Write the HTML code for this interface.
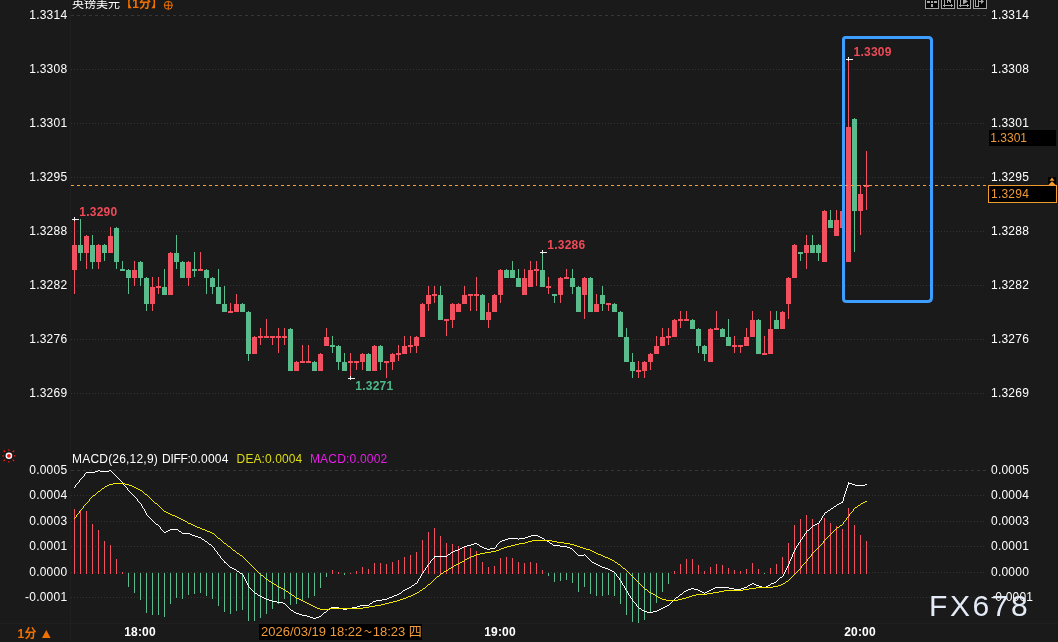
<!DOCTYPE html><html><head><meta charset="utf-8"><title>英镑美元 1分</title><style>
html,body{margin:0;padding:0;background:#1a1a1a;}
body{width:1058px;height:642px;overflow:hidden;position:relative;font-family:"Liberation Sans","Noto Sans CJK SC",sans-serif;font-size:12px;color:#e6e6e6;}
svg{position:absolute;left:0;top:0;}
.t{position:absolute;white-space:nowrap;line-height:14px;height:14px;letter-spacing:0.22px;color:#fff;}
.yl{left:0;width:67.3px;text-align:right;}
.yr{left:991px;}
.b{font-weight:bold;}

</style></head><body>
<svg width="1058" height="642" viewBox="0 0 1058 642">
<g shape-rendering="crispEdges">
<line x1="71" y1="15.5" x2="986" y2="15.5" stroke="#363636" stroke-width="1" stroke-dasharray="3 3"/>
<line x1="71" y1="69.5" x2="986" y2="69.5" stroke="#333333" stroke-width="1" stroke-dasharray="1 2"/>
<line x1="71" y1="123.5" x2="986" y2="123.5" stroke="#333333" stroke-width="1" stroke-dasharray="1 2"/>
<line x1="71" y1="177.5" x2="986" y2="177.5" stroke="#333333" stroke-width="1" stroke-dasharray="1 2"/>
<line x1="71" y1="231.5" x2="986" y2="231.5" stroke="#333333" stroke-width="1" stroke-dasharray="1 2"/>
<line x1="71" y1="285.5" x2="986" y2="285.5" stroke="#333333" stroke-width="1" stroke-dasharray="1 2"/>
<line x1="71" y1="339.5" x2="986" y2="339.5" stroke="#333333" stroke-width="1" stroke-dasharray="1 2"/>
<line x1="71" y1="393.5" x2="986" y2="393.5" stroke="#333333" stroke-width="1" stroke-dasharray="1 2"/>
<line x1="71" y1="470.5" x2="986" y2="470.5" stroke="#363636" stroke-width="1" stroke-dasharray="3 3"/>
<line x1="71" y1="495.5" x2="986" y2="495.5" stroke="#333333" stroke-width="1" stroke-dasharray="1 2"/>
<line x1="71" y1="521.5" x2="986" y2="521.5" stroke="#333333" stroke-width="1" stroke-dasharray="1 2"/>
<line x1="71" y1="546.5" x2="986" y2="546.5" stroke="#333333" stroke-width="1" stroke-dasharray="1 2"/>
<line x1="71" y1="572.5" x2="986" y2="572.5" stroke="#333333" stroke-width="1" stroke-dasharray="1 2"/>
<line x1="71" y1="597.5" x2="986" y2="597.5" stroke="#333333" stroke-width="1" stroke-dasharray="1 2"/>
<line x1="70.5" y1="0" x2="70.5" y2="642" stroke="#1f1f1f" stroke-width="1"/>
<line x1="0" y1="623.5" x2="1058" y2="623.5" stroke="#1f1f1f" stroke-width="1"/>
<rect x="74" y="219" width="1" height="75" fill="#f0505f"/>
<rect x="72" y="245" width="5" height="25" fill="#f0505f"/>
<rect x="80" y="219" width="1" height="42" fill="#5abb8c"/>
<rect x="78" y="245" width="5" height="8" fill="#5abb8c"/>
<rect x="86" y="235" width="1" height="34" fill="#f0505f"/>
<rect x="84" y="236" width="5" height="17" fill="#f0505f"/>
<rect x="92" y="235" width="1" height="34" fill="#5abb8c"/>
<rect x="90" y="245" width="5" height="17" fill="#5abb8c"/>
<rect x="98" y="244" width="1" height="25" fill="#f0505f"/>
<rect x="96" y="245" width="5" height="17" fill="#f0505f"/>
<rect x="104" y="244" width="1" height="17" fill="#5abb8c"/>
<rect x="102" y="245" width="5" height="8" fill="#5abb8c"/>
<rect x="110" y="227" width="1" height="25" fill="#f0505f"/>
<rect x="108" y="236" width="5" height="17" fill="#f0505f"/>
<rect x="116" y="227" width="1" height="42" fill="#5abb8c"/>
<rect x="114" y="228" width="5" height="34" fill="#5abb8c"/>
<rect x="122" y="261" width="1" height="8" fill="#5abb8c"/>
<rect x="120" y="269" width="5" height="2" fill="#5abb8c"/>
<rect x="128" y="269" width="1" height="25" fill="#5abb8c"/>
<rect x="126" y="270" width="5" height="8" fill="#5abb8c"/>
<rect x="134" y="261" width="1" height="25" fill="#f0505f"/>
<rect x="132" y="270" width="5" height="8" fill="#f0505f"/>
<rect x="140" y="261" width="1" height="25" fill="#5abb8c"/>
<rect x="138" y="262" width="5" height="16" fill="#5abb8c"/>
<rect x="146" y="277" width="1" height="34" fill="#5abb8c"/>
<rect x="144" y="278" width="5" height="26" fill="#5abb8c"/>
<rect x="152" y="277" width="1" height="34" fill="#f0505f"/>
<rect x="150" y="287" width="5" height="17" fill="#f0505f"/>
<rect x="158" y="277" width="1" height="17" fill="#f0505f"/>
<rect x="156" y="286" width="5" height="2" fill="#f0505f"/>
<rect x="164" y="269" width="1" height="25" fill="#5abb8c"/>
<rect x="162" y="287" width="5" height="8" fill="#5abb8c"/>
<rect x="170" y="252" width="1" height="42" fill="#f0505f"/>
<rect x="168" y="253" width="5" height="42" fill="#f0505f"/>
<rect x="176" y="235" width="1" height="34" fill="#5abb8c"/>
<rect x="174" y="253" width="5" height="9" fill="#5abb8c"/>
<rect x="182" y="261" width="1" height="16" fill="#5abb8c"/>
<rect x="180" y="262" width="5" height="16" fill="#5abb8c"/>
<rect x="188" y="261" width="1" height="25" fill="#f0505f"/>
<rect x="186" y="262" width="5" height="16" fill="#f0505f"/>
<rect x="194" y="252" width="1" height="25" fill="#5abb8c"/>
<rect x="192" y="269" width="5" height="2" fill="#5abb8c"/>
<rect x="200" y="252" width="1" height="17" fill="#f0505f"/>
<rect x="198" y="269" width="5" height="2" fill="#f0505f"/>
<rect x="206" y="269" width="1" height="25" fill="#5abb8c"/>
<rect x="204" y="270" width="5" height="8" fill="#5abb8c"/>
<rect x="212" y="277" width="1" height="17" fill="#5abb8c"/>
<rect x="210" y="278" width="5" height="9" fill="#5abb8c"/>
<rect x="218" y="269" width="1" height="34" fill="#5abb8c"/>
<rect x="216" y="287" width="5" height="17" fill="#5abb8c"/>
<rect x="224" y="286" width="1" height="25" fill="#5abb8c"/>
<rect x="222" y="304" width="5" height="8" fill="#5abb8c"/>
<rect x="230" y="303" width="1" height="8" fill="#f0505f"/>
<rect x="228" y="311" width="5" height="2" fill="#f0505f"/>
<rect x="236" y="294" width="1" height="17" fill="#f0505f"/>
<rect x="234" y="304" width="5" height="8" fill="#f0505f"/>
<rect x="242" y="303" width="1" height="8" fill="#5abb8c"/>
<rect x="240" y="304" width="5" height="8" fill="#5abb8c"/>
<rect x="248" y="311" width="1" height="50" fill="#5abb8c"/>
<rect x="246" y="312" width="5" height="42" fill="#5abb8c"/>
<rect x="254" y="336" width="1" height="17" fill="#f0505f"/>
<rect x="252" y="337" width="5" height="17" fill="#f0505f"/>
<rect x="260" y="328" width="1" height="17" fill="#f0505f"/>
<rect x="258" y="336" width="5" height="2" fill="#f0505f"/>
<rect x="266" y="319" width="1" height="17" fill="#f0505f"/>
<rect x="264" y="336" width="5" height="2" fill="#f0505f"/>
<rect x="272" y="336" width="1" height="9" fill="#f0505f"/>
<rect x="270" y="336" width="5" height="2" fill="#f0505f"/>
<rect x="278" y="328" width="1" height="25" fill="#f0505f"/>
<rect x="276" y="336" width="5" height="2" fill="#f0505f"/>
<rect x="284" y="328" width="1" height="17" fill="#f0505f"/>
<rect x="282" y="336" width="5" height="2" fill="#f0505f"/>
<rect x="290" y="328" width="1" height="42" fill="#5abb8c"/>
<rect x="288" y="329" width="5" height="42" fill="#5abb8c"/>
<rect x="296" y="361" width="1" height="9" fill="#f0505f"/>
<rect x="294" y="362" width="5" height="9" fill="#f0505f"/>
<rect x="302" y="345" width="1" height="16" fill="#f0505f"/>
<rect x="300" y="361" width="5" height="2" fill="#f0505f"/>
<rect x="308" y="345" width="1" height="16" fill="#f0505f"/>
<rect x="306" y="361" width="5" height="2" fill="#f0505f"/>
<rect x="314" y="361" width="1" height="9" fill="#5abb8c"/>
<rect x="312" y="362" width="5" height="9" fill="#5abb8c"/>
<rect x="320" y="353" width="1" height="17" fill="#f0505f"/>
<rect x="318" y="354" width="5" height="17" fill="#f0505f"/>
<rect x="326" y="328" width="1" height="17" fill="#f0505f"/>
<rect x="324" y="337" width="5" height="9" fill="#f0505f"/>
<rect x="332" y="336" width="1" height="17" fill="#5abb8c"/>
<rect x="330" y="345" width="5" height="2" fill="#5abb8c"/>
<rect x="338" y="345" width="1" height="25" fill="#5abb8c"/>
<rect x="336" y="346" width="5" height="16" fill="#5abb8c"/>
<rect x="344" y="353" width="1" height="17" fill="#5abb8c"/>
<rect x="342" y="362" width="5" height="9" fill="#5abb8c"/>
<rect x="350" y="353" width="1" height="25" fill="#f0505f"/>
<rect x="348" y="361" width="5" height="2" fill="#f0505f"/>
<rect x="356" y="361" width="1" height="9" fill="#f0505f"/>
<rect x="354" y="361" width="5" height="2" fill="#f0505f"/>
<rect x="362" y="353" width="1" height="17" fill="#f0505f"/>
<rect x="360" y="354" width="5" height="8" fill="#f0505f"/>
<rect x="368" y="353" width="1" height="17" fill="#5abb8c"/>
<rect x="366" y="354" width="5" height="17" fill="#5abb8c"/>
<rect x="374" y="345" width="1" height="25" fill="#f0505f"/>
<rect x="372" y="346" width="5" height="25" fill="#f0505f"/>
<rect x="380" y="345" width="1" height="25" fill="#5abb8c"/>
<rect x="378" y="346" width="5" height="16" fill="#5abb8c"/>
<rect x="386" y="361" width="1" height="17" fill="#f0505f"/>
<rect x="384" y="361" width="5" height="2" fill="#f0505f"/>
<rect x="392" y="353" width="1" height="17" fill="#f0505f"/>
<rect x="390" y="354" width="5" height="8" fill="#f0505f"/>
<rect x="398" y="345" width="1" height="16" fill="#f0505f"/>
<rect x="396" y="353" width="5" height="2" fill="#f0505f"/>
<rect x="404" y="336" width="1" height="17" fill="#f0505f"/>
<rect x="402" y="346" width="5" height="8" fill="#f0505f"/>
<rect x="410" y="336" width="1" height="17" fill="#f0505f"/>
<rect x="408" y="345" width="5" height="2" fill="#f0505f"/>
<rect x="416" y="336" width="1" height="17" fill="#f0505f"/>
<rect x="414" y="337" width="5" height="9" fill="#f0505f"/>
<rect x="422" y="303" width="1" height="33" fill="#f0505f"/>
<rect x="420" y="304" width="5" height="33" fill="#f0505f"/>
<rect x="428" y="286" width="1" height="25" fill="#f0505f"/>
<rect x="426" y="295" width="5" height="9" fill="#f0505f"/>
<rect x="434" y="286" width="1" height="17" fill="#f0505f"/>
<rect x="432" y="294" width="5" height="2" fill="#f0505f"/>
<rect x="440" y="286" width="1" height="33" fill="#5abb8c"/>
<rect x="438" y="295" width="5" height="25" fill="#5abb8c"/>
<rect x="446" y="319" width="1" height="17" fill="#f0505f"/>
<rect x="444" y="319" width="5" height="2" fill="#f0505f"/>
<rect x="452" y="303" width="1" height="25" fill="#f0505f"/>
<rect x="450" y="304" width="5" height="16" fill="#f0505f"/>
<rect x="458" y="303" width="1" height="8" fill="#f0505f"/>
<rect x="456" y="304" width="5" height="8" fill="#f0505f"/>
<rect x="464" y="286" width="1" height="17" fill="#f0505f"/>
<rect x="462" y="295" width="5" height="9" fill="#f0505f"/>
<rect x="470" y="294" width="1" height="17" fill="#f0505f"/>
<rect x="468" y="294" width="5" height="2" fill="#f0505f"/>
<rect x="476" y="277" width="1" height="34" fill="#f0505f"/>
<rect x="474" y="294" width="5" height="2" fill="#f0505f"/>
<rect x="482" y="294" width="1" height="25" fill="#5abb8c"/>
<rect x="480" y="295" width="5" height="25" fill="#5abb8c"/>
<rect x="488" y="303" width="1" height="25" fill="#f0505f"/>
<rect x="486" y="312" width="5" height="8" fill="#f0505f"/>
<rect x="494" y="294" width="1" height="17" fill="#f0505f"/>
<rect x="492" y="295" width="5" height="17" fill="#f0505f"/>
<rect x="500" y="269" width="1" height="34" fill="#f0505f"/>
<rect x="498" y="270" width="5" height="25" fill="#f0505f"/>
<rect x="506" y="269" width="1" height="8" fill="#5abb8c"/>
<rect x="504" y="270" width="5" height="8" fill="#5abb8c"/>
<rect x="512" y="261" width="1" height="16" fill="#5abb8c"/>
<rect x="510" y="270" width="5" height="8" fill="#5abb8c"/>
<rect x="518" y="269" width="1" height="17" fill="#5abb8c"/>
<rect x="516" y="278" width="5" height="9" fill="#5abb8c"/>
<rect x="524" y="269" width="1" height="25" fill="#f0505f"/>
<rect x="522" y="278" width="5" height="17" fill="#f0505f"/>
<rect x="530" y="261" width="1" height="25" fill="#f0505f"/>
<rect x="528" y="270" width="5" height="17" fill="#f0505f"/>
<rect x="536" y="261" width="1" height="25" fill="#f0505f"/>
<rect x="534" y="269" width="5" height="2" fill="#f0505f"/>
<rect x="542" y="252" width="1" height="34" fill="#5abb8c"/>
<rect x="540" y="270" width="5" height="17" fill="#5abb8c"/>
<rect x="548" y="277" width="1" height="17" fill="#f0505f"/>
<rect x="546" y="286" width="5" height="2" fill="#f0505f"/>
<rect x="554" y="294" width="1" height="9" fill="#5abb8c"/>
<rect x="552" y="294" width="5" height="2" fill="#5abb8c"/>
<rect x="560" y="277" width="1" height="26" fill="#f0505f"/>
<rect x="558" y="278" width="5" height="17" fill="#f0505f"/>
<rect x="566" y="269" width="1" height="8" fill="#f0505f"/>
<rect x="564" y="277" width="5" height="2" fill="#f0505f"/>
<rect x="572" y="269" width="1" height="25" fill="#5abb8c"/>
<rect x="570" y="278" width="5" height="9" fill="#5abb8c"/>
<rect x="578" y="286" width="1" height="25" fill="#5abb8c"/>
<rect x="576" y="287" width="5" height="25" fill="#5abb8c"/>
<rect x="584" y="277" width="1" height="42" fill="#f0505f"/>
<rect x="582" y="278" width="5" height="17" fill="#f0505f"/>
<rect x="590" y="277" width="1" height="34" fill="#5abb8c"/>
<rect x="588" y="278" width="5" height="34" fill="#5abb8c"/>
<rect x="596" y="294" width="1" height="17" fill="#f0505f"/>
<rect x="594" y="304" width="5" height="8" fill="#f0505f"/>
<rect x="602" y="286" width="1" height="25" fill="#5abb8c"/>
<rect x="600" y="295" width="5" height="9" fill="#5abb8c"/>
<rect x="608" y="303" width="1" height="8" fill="#f0505f"/>
<rect x="606" y="303" width="5" height="2" fill="#f0505f"/>
<rect x="614" y="303" width="1" height="8" fill="#5abb8c"/>
<rect x="612" y="304" width="5" height="8" fill="#5abb8c"/>
<rect x="620" y="311" width="1" height="25" fill="#5abb8c"/>
<rect x="618" y="312" width="5" height="25" fill="#5abb8c"/>
<rect x="626" y="328" width="1" height="33" fill="#5abb8c"/>
<rect x="624" y="337" width="5" height="25" fill="#5abb8c"/>
<rect x="632" y="353" width="1" height="25" fill="#5abb8c"/>
<rect x="630" y="362" width="5" height="9" fill="#5abb8c"/>
<rect x="638" y="361" width="1" height="17" fill="#f0505f"/>
<rect x="636" y="370" width="5" height="2" fill="#f0505f"/>
<rect x="644" y="361" width="1" height="17" fill="#f0505f"/>
<rect x="642" y="362" width="5" height="9" fill="#f0505f"/>
<rect x="650" y="353" width="1" height="17" fill="#f0505f"/>
<rect x="648" y="354" width="5" height="8" fill="#f0505f"/>
<rect x="656" y="336" width="1" height="17" fill="#f0505f"/>
<rect x="654" y="346" width="5" height="8" fill="#f0505f"/>
<rect x="662" y="328" width="1" height="17" fill="#f0505f"/>
<rect x="660" y="337" width="5" height="9" fill="#f0505f"/>
<rect x="668" y="328" width="1" height="17" fill="#f0505f"/>
<rect x="666" y="336" width="5" height="2" fill="#f0505f"/>
<rect x="674" y="319" width="1" height="17" fill="#f0505f"/>
<rect x="672" y="320" width="5" height="17" fill="#f0505f"/>
<rect x="680" y="311" width="1" height="17" fill="#f0505f"/>
<rect x="678" y="319" width="5" height="2" fill="#f0505f"/>
<rect x="686" y="311" width="1" height="8" fill="#f0505f"/>
<rect x="684" y="319" width="5" height="2" fill="#f0505f"/>
<rect x="692" y="319" width="1" height="9" fill="#5abb8c"/>
<rect x="690" y="320" width="5" height="9" fill="#5abb8c"/>
<rect x="698" y="328" width="1" height="25" fill="#5abb8c"/>
<rect x="696" y="329" width="5" height="17" fill="#5abb8c"/>
<rect x="704" y="345" width="1" height="16" fill="#5abb8c"/>
<rect x="702" y="346" width="5" height="8" fill="#5abb8c"/>
<rect x="710" y="328" width="1" height="33" fill="#f0505f"/>
<rect x="708" y="329" width="5" height="33" fill="#f0505f"/>
<rect x="716" y="311" width="1" height="17" fill="#f0505f"/>
<rect x="714" y="328" width="5" height="2" fill="#f0505f"/>
<rect x="722" y="328" width="1" height="8" fill="#5abb8c"/>
<rect x="720" y="329" width="5" height="8" fill="#5abb8c"/>
<rect x="728" y="319" width="1" height="26" fill="#5abb8c"/>
<rect x="726" y="337" width="5" height="9" fill="#5abb8c"/>
<rect x="734" y="336" width="1" height="17" fill="#f0505f"/>
<rect x="732" y="345" width="5" height="2" fill="#f0505f"/>
<rect x="740" y="345" width="1" height="8" fill="#f0505f"/>
<rect x="738" y="345" width="5" height="2" fill="#f0505f"/>
<rect x="746" y="328" width="1" height="17" fill="#f0505f"/>
<rect x="744" y="337" width="5" height="9" fill="#f0505f"/>
<rect x="752" y="311" width="1" height="25" fill="#f0505f"/>
<rect x="750" y="320" width="5" height="17" fill="#f0505f"/>
<rect x="758" y="319" width="1" height="34" fill="#5abb8c"/>
<rect x="756" y="320" width="5" height="34" fill="#5abb8c"/>
<rect x="764" y="336" width="1" height="17" fill="#f0505f"/>
<rect x="762" y="353" width="5" height="2" fill="#f0505f"/>
<rect x="770" y="311" width="1" height="42" fill="#f0505f"/>
<rect x="768" y="329" width="5" height="25" fill="#f0505f"/>
<rect x="776" y="311" width="1" height="17" fill="#5abb8c"/>
<rect x="774" y="320" width="5" height="9" fill="#5abb8c"/>
<rect x="782" y="311" width="1" height="17" fill="#f0505f"/>
<rect x="780" y="312" width="5" height="17" fill="#f0505f"/>
<rect x="788" y="277" width="1" height="42" fill="#f0505f"/>
<rect x="786" y="278" width="5" height="26" fill="#f0505f"/>
<rect x="794" y="244" width="1" height="33" fill="#f0505f"/>
<rect x="792" y="245" width="5" height="33" fill="#f0505f"/>
<rect x="800" y="252" width="1" height="9" fill="#5abb8c"/>
<rect x="798" y="252" width="5" height="2" fill="#5abb8c"/>
<rect x="806" y="235" width="1" height="34" fill="#f0505f"/>
<rect x="804" y="245" width="5" height="8" fill="#f0505f"/>
<rect x="812" y="235" width="1" height="17" fill="#5abb8c"/>
<rect x="810" y="245" width="5" height="8" fill="#5abb8c"/>
<rect x="818" y="244" width="1" height="17" fill="#5abb8c"/>
<rect x="816" y="245" width="5" height="8" fill="#5abb8c"/>
<rect x="824" y="210" width="1" height="51" fill="#f0505f"/>
<rect x="822" y="211" width="5" height="51" fill="#f0505f"/>
<rect x="830" y="210" width="1" height="17" fill="#5abb8c"/>
<rect x="828" y="220" width="5" height="8" fill="#5abb8c"/>
<rect x="836" y="210" width="1" height="25" fill="#f0505f"/>
<rect x="834" y="220" width="5" height="16" fill="#f0505f"/>
<rect x="842" y="210" width="1" height="17" fill="#f0505f"/>
<rect x="840" y="211" width="5" height="17" fill="#f0505f"/>
<rect x="848" y="59" width="1" height="202" fill="#f0505f"/>
<rect x="846" y="127" width="5" height="135" fill="#f0505f"/>
<rect x="854" y="118" width="1" height="134" fill="#5abb8c"/>
<rect x="852" y="119" width="5" height="92" fill="#5abb8c"/>
<rect x="860" y="185" width="1" height="50" fill="#f0505f"/>
<rect x="858" y="194" width="5" height="17" fill="#f0505f"/>
<rect x="866" y="151" width="1" height="59" fill="#f0505f"/>
<rect x="864" y="185" width="5" height="2" fill="#f0505f"/>
<rect x="74" y="509" width="1" height="65" fill="#f0505f"/>
<rect x="80" y="511" width="1" height="63" fill="#f0505f"/>
<rect x="86" y="511" width="1" height="63" fill="#f0505f"/>
<rect x="92" y="524" width="1" height="50" fill="#f0505f"/>
<rect x="98" y="530" width="1" height="44" fill="#f0505f"/>
<rect x="104" y="541" width="1" height="33" fill="#f0505f"/>
<rect x="110" y="545" width="1" height="29" fill="#f0505f"/>
<rect x="116" y="559" width="1" height="15" fill="#f0505f"/>
<rect x="122" y="572" width="1" height="2" fill="#f0505f"/>
<rect x="128" y="573" width="1" height="14" fill="#5abb8c"/>
<rect x="134" y="573" width="1" height="20" fill="#5abb8c"/>
<rect x="140" y="573" width="1" height="27" fill="#5abb8c"/>
<rect x="146" y="573" width="1" height="40" fill="#5abb8c"/>
<rect x="152" y="573" width="1" height="42" fill="#5abb8c"/>
<rect x="158" y="573" width="1" height="42" fill="#5abb8c"/>
<rect x="164" y="573" width="1" height="44" fill="#5abb8c"/>
<rect x="170" y="573" width="1" height="31" fill="#5abb8c"/>
<rect x="176" y="573" width="1" height="25" fill="#5abb8c"/>
<rect x="182" y="573" width="1" height="26" fill="#5abb8c"/>
<rect x="188" y="573" width="1" height="22" fill="#5abb8c"/>
<rect x="194" y="573" width="1" height="21" fill="#5abb8c"/>
<rect x="200" y="573" width="1" height="20" fill="#5abb8c"/>
<rect x="206" y="573" width="1" height="23" fill="#5abb8c"/>
<rect x="212" y="573" width="1" height="26" fill="#5abb8c"/>
<rect x="218" y="573" width="1" height="33" fill="#5abb8c"/>
<rect x="224" y="573" width="1" height="39" fill="#5abb8c"/>
<rect x="230" y="573" width="1" height="41" fill="#5abb8c"/>
<rect x="236" y="573" width="1" height="38" fill="#5abb8c"/>
<rect x="242" y="573" width="1" height="37" fill="#5abb8c"/>
<rect x="248" y="573" width="1" height="48" fill="#5abb8c"/>
<rect x="254" y="573" width="1" height="48" fill="#5abb8c"/>
<rect x="260" y="573" width="1" height="45" fill="#5abb8c"/>
<rect x="266" y="573" width="1" height="41" fill="#5abb8c"/>
<rect x="272" y="573" width="1" height="36" fill="#5abb8c"/>
<rect x="278" y="573" width="1" height="31" fill="#5abb8c"/>
<rect x="284" y="573" width="1" height="26" fill="#5abb8c"/>
<rect x="290" y="573" width="1" height="32" fill="#5abb8c"/>
<rect x="296" y="573" width="1" height="31" fill="#5abb8c"/>
<rect x="302" y="573" width="1" height="28" fill="#5abb8c"/>
<rect x="308" y="573" width="1" height="25" fill="#5abb8c"/>
<rect x="314" y="573" width="1" height="23" fill="#5abb8c"/>
<rect x="320" y="573" width="1" height="15" fill="#5abb8c"/>
<rect x="326" y="573" width="1" height="4" fill="#5abb8c"/>
<rect x="332" y="570" width="1" height="4" fill="#f0505f"/>
<rect x="338" y="572" width="1" height="2" fill="#f0505f"/>
<rect x="344" y="573" width="1" height="2" fill="#5abb8c"/>
<rect x="350" y="573" width="1" height="1" fill="#f0505f"/>
<rect x="356" y="571" width="1" height="3" fill="#f0505f"/>
<rect x="362" y="567" width="1" height="7" fill="#f0505f"/>
<rect x="368" y="569" width="1" height="5" fill="#f0505f"/>
<rect x="374" y="563" width="1" height="11" fill="#f0505f"/>
<rect x="380" y="563" width="1" height="11" fill="#f0505f"/>
<rect x="386" y="564" width="1" height="10" fill="#f0505f"/>
<rect x="392" y="562" width="1" height="12" fill="#f0505f"/>
<rect x="398" y="560" width="1" height="14" fill="#f0505f"/>
<rect x="404" y="557" width="1" height="17" fill="#f0505f"/>
<rect x="410" y="555" width="1" height="19" fill="#f0505f"/>
<rect x="416" y="552" width="1" height="22" fill="#f0505f"/>
<rect x="422" y="540" width="1" height="34" fill="#f0505f"/>
<rect x="428" y="532" width="1" height="42" fill="#f0505f"/>
<rect x="434" y="528" width="1" height="46" fill="#f0505f"/>
<rect x="440" y="536" width="1" height="38" fill="#f0505f"/>
<rect x="446" y="543" width="1" height="31" fill="#f0505f"/>
<rect x="452" y="544" width="1" height="30" fill="#f0505f"/>
<rect x="458" y="546" width="1" height="28" fill="#f0505f"/>
<rect x="464" y="546" width="1" height="28" fill="#f0505f"/>
<rect x="470" y="548" width="1" height="26" fill="#f0505f"/>
<rect x="476" y="551" width="1" height="23" fill="#f0505f"/>
<rect x="482" y="562" width="1" height="12" fill="#f0505f"/>
<rect x="488" y="567" width="1" height="7" fill="#f0505f"/>
<rect x="494" y="566" width="1" height="8" fill="#f0505f"/>
<rect x="500" y="558" width="1" height="16" fill="#f0505f"/>
<rect x="506" y="557" width="1" height="17" fill="#f0505f"/>
<rect x="512" y="558" width="1" height="16" fill="#f0505f"/>
<rect x="518" y="562" width="1" height="12" fill="#f0505f"/>
<rect x="524" y="563" width="1" height="11" fill="#f0505f"/>
<rect x="530" y="562" width="1" height="12" fill="#f0505f"/>
<rect x="536" y="563" width="1" height="11" fill="#f0505f"/>
<rect x="542" y="570" width="1" height="4" fill="#f0505f"/>
<rect x="548" y="573" width="1" height="3" fill="#5abb8c"/>
<rect x="554" y="573" width="1" height="9" fill="#5abb8c"/>
<rect x="560" y="573" width="1" height="8" fill="#5abb8c"/>
<rect x="566" y="573" width="1" height="7" fill="#5abb8c"/>
<rect x="572" y="573" width="1" height="10" fill="#5abb8c"/>
<rect x="578" y="573" width="1" height="19" fill="#5abb8c"/>
<rect x="584" y="573" width="1" height="14" fill="#5abb8c"/>
<rect x="590" y="573" width="1" height="21" fill="#5abb8c"/>
<rect x="596" y="573" width="1" height="23" fill="#5abb8c"/>
<rect x="602" y="573" width="1" height="23" fill="#5abb8c"/>
<rect x="608" y="573" width="1" height="22" fill="#5abb8c"/>
<rect x="614" y="573" width="1" height="23" fill="#5abb8c"/>
<rect x="620" y="573" width="1" height="31" fill="#5abb8c"/>
<rect x="626" y="573" width="1" height="42" fill="#5abb8c"/>
<rect x="632" y="573" width="1" height="49" fill="#5abb8c"/>
<rect x="638" y="573" width="1" height="50" fill="#5abb8c"/>
<rect x="644" y="573" width="1" height="47" fill="#5abb8c"/>
<rect x="650" y="573" width="1" height="40" fill="#5abb8c"/>
<rect x="656" y="573" width="1" height="30" fill="#5abb8c"/>
<rect x="662" y="573" width="1" height="19" fill="#5abb8c"/>
<rect x="668" y="573" width="1" height="11" fill="#5abb8c"/>
<rect x="674" y="571" width="1" height="3" fill="#f0505f"/>
<rect x="680" y="564" width="1" height="10" fill="#f0505f"/>
<rect x="686" y="559" width="1" height="15" fill="#f0505f"/>
<rect x="692" y="559" width="1" height="15" fill="#f0505f"/>
<rect x="698" y="565" width="1" height="9" fill="#f0505f"/>
<rect x="704" y="571" width="1" height="3" fill="#f0505f"/>
<rect x="710" y="567" width="1" height="7" fill="#f0505f"/>
<rect x="716" y="564" width="1" height="10" fill="#f0505f"/>
<rect x="722" y="565" width="1" height="9" fill="#f0505f"/>
<rect x="728" y="568" width="1" height="6" fill="#f0505f"/>
<rect x="734" y="570" width="1" height="4" fill="#f0505f"/>
<rect x="740" y="571" width="1" height="3" fill="#f0505f"/>
<rect x="746" y="569" width="1" height="5" fill="#f0505f"/>
<rect x="752" y="563" width="1" height="11" fill="#f0505f"/>
<rect x="758" y="569" width="1" height="5" fill="#f0505f"/>
<rect x="764" y="573" width="1" height="1" fill="#5abb8c"/>
<rect x="770" y="568" width="1" height="6" fill="#f0505f"/>
<rect x="776" y="564" width="1" height="10" fill="#f0505f"/>
<rect x="782" y="557" width="1" height="17" fill="#f0505f"/>
<rect x="788" y="543" width="1" height="31" fill="#f0505f"/>
<rect x="794" y="525" width="1" height="49" fill="#f0505f"/>
<rect x="800" y="519" width="1" height="55" fill="#f0505f"/>
<rect x="806" y="515" width="1" height="59" fill="#f0505f"/>
<rect x="812" y="519" width="1" height="55" fill="#f0505f"/>
<rect x="818" y="524" width="1" height="50" fill="#f0505f"/>
<rect x="824" y="518" width="1" height="56" fill="#f0505f"/>
<rect x="830" y="523" width="1" height="51" fill="#f0505f"/>
<rect x="836" y="526" width="1" height="48" fill="#f0505f"/>
<rect x="842" y="529" width="1" height="45" fill="#f0505f"/>
<rect x="848" y="508" width="1" height="66" fill="#f0505f"/>
<rect x="854" y="525" width="1" height="49" fill="#f0505f"/>
<rect x="860" y="535" width="1" height="39" fill="#f0505f"/>
<rect x="866" y="541" width="1" height="33" fill="#f0505f"/>
</g>
<path d="M74 487h1v1h-1zM75 485h1v2h-1zM76 484h1v1h-1zM77 483h1v1h-1zM78 482h1v1h-1zM79 480h1v2h-1zM80 479h1v1h-1zM81 478h1v1h-1zM82 477h1v1h-1zM83 476h1v1h-1zM84 474h1v2h-1zM85 473h1v1h-1zM86 472h9v1h-9zM95 471h3v1h-3zM98 470h2v1h-2zM100 471h9v1h-9zM109 470h2v1h-2zM111 471h1v1h-1zM112 472h1v1h-1zM113 473h1v1h-1zM114 474h1v1h-1zM115 475h1v1h-1zM116 476h1v1h-1zM117 477h1v1h-1zM118 478h1v1h-1zM119 479h1v1h-1zM120 480h1v1h-1zM121 481h1v1h-1zM122 482h1v1h-1zM123 483h1v2h-1zM124 485h1v1h-1zM125 486h1v1h-1zM126 487h1v1h-1zM127 488h1v2h-1zM128 490h1v1h-1zM129 491h1v1h-1zM130 492h1v1h-1zM131 493h1v1h-1zM132 494h1v1h-1zM133 495h1v1h-1zM134 496h1v1h-1zM135 497h1v1h-1zM136 498h1v1h-1zM137 499h1v2h-1zM138 501h1v1h-1zM139 502h1v1h-1zM140 503h1v1h-1zM141 504h1v2h-1zM142 506h1v2h-1zM143 508h1v1h-1zM144 509h1v2h-1zM145 511h1v2h-1zM146 513h1v2h-1zM147 515h1v1h-1zM148 516h1v1h-1zM149 517h1v1h-1zM150 518h1v1h-1zM151 519h1v1h-1zM152 520h1v1h-1zM153 521h1v1h-1zM154 522h1v1h-1zM155 523h1v1h-1zM156 524h2v1h-2zM158 525h1v1h-1zM159 526h1v1h-1zM160 527h1v2h-1zM161 529h1v1h-1zM162 530h1v1h-1zM163 531h1v1h-1zM164 532h2v1h-2zM166 531h2v1h-2zM168 530h2v1h-2zM170 529h8v1h-8zM178 530h1v1h-1zM179 531h2v1h-2zM181 532h1v1h-1zM182 533h8v1h-8zM190 534h2v1h-2zM192 535h3v1h-3zM195 536h3v1h-3zM198 537h3v1h-3zM201 538h1v1h-1zM202 539h2v1h-2zM204 540h1v1h-1zM205 541h2v1h-2zM207 542h1v1h-1zM208 543h1v1h-1zM209 544h2v1h-2zM211 545h1v1h-1zM212 546h1v1h-1zM213 547h1v1h-1zM214 548h1v2h-1zM215 550h1v1h-1zM216 551h1v1h-1zM217 552h1v2h-1zM218 554h1v1h-1zM219 555h1v1h-1zM220 556h1v2h-1zM221 558h1v1h-1zM222 559h1v1h-1zM223 560h1v1h-1zM224 561h1v2h-1zM225 562h1v1h-1zM226 563h1v1h-1zM227 564h1v1h-1zM228 565h1v1h-1zM229 566h1v1h-1zM230 567h2v1h-2zM232 568h2v1h-2zM234 569h2v1h-2zM236 570h1v1h-1zM237 571h2v1h-2zM239 572h1v1h-1zM240 573h2v1h-2zM242 574h1v1h-1zM243 575h1v2h-1zM244 577h1v2h-1zM245 579h1v2h-1zM246 581h1v2h-1zM247 583h1v2h-1zM248 585h1v2h-1zM249 587h1v1h-1zM250 588h1v1h-1zM251 589h1v1h-1zM252 590h1v1h-1zM253 591h1v1h-1zM254 592h1v1h-1zM255 593h2v1h-2zM257 594h1v1h-1zM258 595h2v1h-2zM260 596h2v1h-2zM262 597h2v1h-2zM264 598h2v1h-2zM266 599h3v1h-3zM269 600h3v1h-3zM272 601h5v1h-5zM277 602h6v1h-6zM283 603h2v1h-2zM285 604h1v1h-1zM286 605h1v1h-1zM287 606h1v1h-1zM288 607h1v1h-1zM289 608h1v1h-1zM290 609h1v1h-1zM291 610h2v1h-2zM293 611h1v1h-1zM294 612h2v1h-2zM296 613h3v1h-3zM299 614h3v1h-3zM302 615h5v1h-5zM307 616h3v1h-3zM310 617h3v1h-3zM313 618h3v1h-3zM316 617h3v1h-3zM319 616h2v1h-2zM321 615h1v1h-1zM322 614h1v1h-1zM323 613h1v1h-1zM324 612h2v1h-2zM326 611h1v1h-1zM327 610h1v1h-1zM328 609h2v1h-2zM330 608h1v1h-1zM331 607h8v1h-8zM339 608h4v1h-4zM343 609h4v1h-4zM347 608h5v1h-5zM352 607h5v1h-5zM357 606h3v1h-3zM360 605h9v1h-9zM369 604h1v1h-1zM370 603h2v1h-2zM372 602h1v1h-1zM373 601h3v1h-3zM376 600h6v1h-6zM382 599h5v1h-5zM387 598h2v1h-2zM389 597h3v1h-3zM392 596h2v1h-2zM394 595h3v1h-3zM397 594h2v1h-2zM399 593h2v1h-2zM401 592h1v1h-1zM402 591h1v1h-1zM403 590h2v1h-2zM405 589h2v1h-2zM407 588h2v1h-2zM409 587h2v1h-2zM411 586h1v1h-1zM412 585h2v1h-2zM414 584h1v1h-1zM415 583h2v1h-2zM417 581h1v2h-1zM418 579h1v2h-1zM419 578h1v1h-1zM420 576h1v2h-1zM421 574h1v2h-1zM422 573h1v1h-1zM423 571h1v2h-1zM424 570h1v1h-1zM425 568h1v2h-1zM426 567h1v1h-1zM427 565h1v2h-1zM428 564h1v1h-1zM429 563h1v1h-1zM430 561h1v2h-1zM431 560h1v1h-1zM432 559h1v1h-1zM433 558h1v1h-1zM434 556h1v2h-1zM435 556h12v1h-12zM447 555h1v1h-1zM448 554h2v1h-2zM450 553h1v1h-1zM451 552h2v1h-2zM453 551h2v1h-2zM455 550h3v1h-3zM458 549h2v1h-2zM460 548h2v1h-2zM462 547h2v1h-2zM464 546h3v1h-3zM467 545h4v1h-4zM471 544h3v1h-3zM474 543h3v1h-3zM477 544h2v1h-2zM479 545h1v1h-1zM480 546h2v1h-2zM482 547h2v1h-2zM484 548h3v1h-3zM487 549h3v1h-3zM490 548h5v1h-5zM495 547h1v1h-1zM496 545h1v2h-1zM497 544h1v1h-1zM498 543h1v1h-1zM499 542h1v1h-1zM500 541h2v1h-2zM502 540h3v1h-3zM505 539h3v1h-3zM508 538h10v1h-10zM518 539h1v1h-1zM519 538h6v1h-6zM525 537h3v1h-3zM528 536h3v1h-3zM531 535h7v1h-7zM538 536h2v1h-2zM540 537h2v1h-2zM542 538h2v1h-2zM544 539h1v1h-1zM545 540h2v1h-2zM547 541h2v1h-2zM549 542h1v1h-1zM550 543h2v1h-2zM552 544h1v1h-1zM553 545h7v1h-7zM560 546h7v1h-7zM567 547h3v1h-3zM570 548h2v1h-2zM572 549h1v1h-1zM573 550h1v1h-1zM574 551h1v1h-1zM575 552h1v1h-1zM576 553h1v1h-1zM577 554h1v1h-1zM578 555h6v1h-6zM584 554h1v1h-1zM585 555h1v1h-1zM586 556h1v1h-1zM587 557h1v1h-1zM588 558h1v1h-1zM589 559h1v1h-1zM590 560h1v1h-1zM591 561h1v1h-1zM592 562h2v1h-2zM594 563h2v1h-2zM596 564h2v1h-2zM598 565h2v1h-2zM600 566h2v1h-2zM602 567h3v1h-3zM605 568h3v1h-3zM608 569h2v1h-2zM610 570h2v1h-2zM612 571h2v1h-2zM614 572h1v1h-1zM615 573h1v1h-1zM616 574h1v2h-1zM617 576h1v1h-1zM618 577h1v1h-1zM619 578h1v2h-1zM620 580h1v1h-1zM621 581h1v2h-1zM622 583h1v2h-1zM623 585h1v1h-1zM624 586h1v2h-1zM625 588h1v2h-1zM626 590h1v1h-1zM627 591h1v2h-1zM628 593h1v2h-1zM629 595h1v1h-1zM630 596h1v2h-1zM631 598h1v1h-1zM632 599h1v2h-1zM633 601h1v1h-1zM634 602h1v1h-1zM635 603h1v1h-1zM636 604h1v2h-1zM637 606h1v1h-1zM638 607h1v1h-1zM639 608h2v1h-2zM641 609h1v1h-1zM642 610h2v1h-2zM644 611h3v1h-3zM647 612h6v1h-6zM653 611h4v1h-4zM657 610h2v1h-2zM659 609h2v1h-2zM661 608h2v1h-2zM663 607h2v1h-2zM665 606h2v1h-2zM667 605h2v1h-2zM669 604h1v1h-1zM670 603h1v1h-1zM671 602h1v1h-1zM672 601h1v1h-1zM673 600h1v1h-1zM674 599h1v1h-1zM675 598h1v1h-1zM676 597h2v1h-2zM678 596h1v1h-1zM679 595h1v1h-1zM680 594h2v1h-2zM682 593h1v1h-1zM683 592h1v1h-1zM684 591h2v1h-2zM686 590h2v1h-2zM688 589h3v1h-3zM691 588h3v1h-3zM694 589h4v1h-4zM698 590h2v1h-2zM700 591h2v1h-2zM702 592h2v1h-2zM704 593h1v1h-1zM705 592h2v1h-2zM707 591h2v1h-2zM709 590h2v1h-2zM711 589h2v1h-2zM713 588h2v1h-2zM715 587h14v1h-14zM729 588h5v1h-5zM734 589h7v1h-7zM741 588h3v1h-3zM744 587h3v1h-3zM747 586h1v1h-1zM748 585h2v1h-2zM750 584h2v1h-2zM752 583h2v1h-2zM754 584h2v1h-2zM756 585h3v1h-3zM759 586h3v1h-3zM762 587h4v1h-4zM766 586h2v1h-2zM768 585h2v1h-2zM770 584h1v1h-1zM771 583h3v1h-3zM774 582h2v1h-2zM776 581h1v1h-1zM777 580h1v1h-1zM778 579h1v1h-1zM779 578h1v1h-1zM780 577h2v1h-2zM782 576h1v1h-1zM783 574h1v2h-1zM784 572h1v2h-1zM785 570h1v2h-1zM786 568h1v2h-1zM787 566h1v2h-1zM788 564h1v2h-1zM789 561h1v3h-1zM790 559h1v2h-1zM791 557h1v2h-1zM792 554h1v3h-1zM793 552h1v2h-1zM794 550h1v2h-1zM795 548h1v2h-1zM796 546h1v2h-1zM797 545h1v1h-1zM798 543h1v2h-1zM799 542h1v1h-1zM800 540h1v2h-1zM801 539h1v1h-1zM802 537h1v2h-1zM803 536h1v1h-1zM804 534h1v2h-1zM805 533h1v1h-1zM806 531h1v2h-1zM807 530h2v1h-2zM809 529h1v1h-1zM810 528h1v1h-1zM811 527h1v1h-1zM812 526h1v1h-1zM813 525h2v1h-2zM815 524h2v1h-2zM817 523h2v1h-2zM819 521h1v2h-1zM820 520h1v1h-1zM821 518h1v2h-1zM822 516h1v2h-1zM823 515h1v1h-1zM824 513h1v2h-1zM825 512h2v1h-2zM827 511h1v1h-1zM828 510h2v1h-2zM830 509h1v1h-1zM831 508h2v1h-2zM833 507h1v1h-1zM834 506h2v1h-2zM836 505h1v1h-1zM837 504h2v1h-2zM839 503h2v1h-2zM841 502h1v1h-1zM842 501h1v2h-1zM843 497h1v4h-1zM844 494h1v3h-1zM845 491h1v3h-1zM846 488h1v3h-1zM847 485h1v3h-1zM848 482h1v3h-1zM849 483h3v1h-3zM852 484h3v1h-3zM855 485h10v1h-10zM865 484h2v1h-2z" fill="#ffffff" shape-rendering="crispEdges"/>
<path d="M74 518h1v1h-1zM75 517h1v1h-1zM76 515h1v2h-1zM77 514h1v1h-1zM78 513h1v1h-1zM79 511h1v2h-1zM80 510h1v1h-1zM81 509h1v1h-1zM82 508h1v1h-1zM83 506h1v2h-1zM84 505h1v1h-1zM85 504h1v1h-1zM86 503h1v1h-1zM87 502h1v1h-1zM88 501h1v1h-1zM89 499h1v2h-1zM90 498h1v1h-1zM91 497h1v1h-1zM92 496h1v1h-1zM93 495h2v1h-2zM95 494h1v1h-1zM96 493h1v1h-1zM97 492h1v1h-1zM98 491h2v1h-2zM100 490h1v1h-1zM101 489h1v1h-1zM102 488h2v1h-2zM104 487h1v1h-1zM105 486h2v1h-2zM107 485h2v1h-2zM109 484h4v1h-4zM113 483h12v1h-12zM125 484h4v1h-4zM129 485h3v1h-3zM132 486h2v1h-2zM134 487h2v1h-2zM136 488h2v1h-2zM138 489h2v1h-2zM140 490h2v1h-2zM142 491h1v1h-1zM143 492h1v1h-1zM144 493h1v1h-1zM145 494h2v1h-2zM147 495h1v1h-1zM148 496h1v1h-1zM149 497h1v1h-1zM150 498h1v1h-1zM151 499h1v1h-1zM152 500h1v1h-1zM153 501h1v1h-1zM154 502h1v1h-1zM155 503h2v1h-2zM157 504h1v1h-1zM158 505h1v1h-1zM159 506h1v1h-1zM160 507h1v1h-1zM161 508h1v1h-1zM162 509h1v1h-1zM163 510h1v1h-1zM164 511h2v1h-2zM166 512h2v1h-2zM168 513h2v1h-2zM170 514h2v1h-2zM172 515h3v1h-3zM175 516h2v1h-2zM177 517h2v1h-2zM179 518h2v1h-2zM181 519h2v1h-2zM183 520h2v1h-2zM185 521h2v1h-2zM187 522h1v1h-1zM188 523h3v1h-3zM191 524h2v1h-2zM193 525h2v1h-2zM195 526h2v1h-2zM197 527h3v1h-3zM200 528h2v1h-2zM202 529h3v1h-3zM205 530h2v1h-2zM207 531h3v1h-3zM210 532h2v1h-2zM212 533h2v1h-2zM214 534h1v1h-1zM215 535h1v1h-1zM216 536h1v1h-1zM217 537h1v1h-1zM218 538h2v1h-2zM220 539h1v1h-1zM221 540h1v1h-1zM222 541h1v1h-1zM223 542h1v1h-1zM224 543h2v1h-2zM226 544h1v1h-1zM227 545h1v1h-1zM228 546h2v1h-2zM230 547h1v1h-1zM231 548h1v1h-1zM232 549h1v1h-1zM233 550h2v1h-2zM235 551h1v1h-1zM236 552h1v1h-1zM237 553h2v1h-2zM239 554h1v1h-1zM240 555h2v1h-2zM242 556h1v1h-1zM243 557h1v1h-1zM244 558h1v1h-1zM245 559h1v1h-1zM246 560h1v1h-1zM247 561h1v1h-1zM248 562h1v1h-1zM249 563h1v1h-1zM250 564h1v1h-1zM251 565h1v1h-1zM252 566h1v1h-1zM253 567h1v1h-1zM254 568h1v1h-1zM255 569h1v1h-1zM256 570h1v1h-1zM257 571h1v1h-1zM258 572h1v1h-1zM259 573h1v1h-1zM260 574h1v1h-1zM261 575h2v1h-2zM263 576h1v1h-1zM264 577h1v1h-1zM265 578h1v1h-1zM266 579h2v1h-2zM268 580h1v1h-1zM269 581h2v1h-2zM271 582h1v1h-1zM272 583h2v1h-2zM274 584h2v1h-2zM276 585h1v1h-1zM277 586h2v1h-2zM279 587h2v1h-2zM281 588h2v1h-2zM283 589h2v1h-2zM285 590h1v1h-1zM286 591h2v1h-2zM288 592h1v1h-1zM289 593h2v1h-2zM291 594h1v1h-1zM292 595h2v1h-2zM294 596h1v1h-1zM295 597h1v1h-1zM296 598h3v1h-3zM299 599h2v1h-2zM301 600h2v1h-2zM303 601h2v1h-2zM305 602h2v1h-2zM307 603h2v1h-2zM309 604h2v1h-2zM311 605h2v1h-2zM313 606h2v1h-2zM315 607h2v1h-2zM317 608h3v1h-3zM320 609h9v1h-9zM329 608h34v1h-34zM363 607h6v1h-6zM369 606h6v1h-6zM375 605h6v1h-6zM381 604h4v1h-4zM385 603h4v1h-4zM389 602h4v1h-4zM393 601h4v1h-4zM397 600h3v1h-3zM400 599h3v1h-3zM403 598h3v1h-3zM406 597h2v1h-2zM408 596h3v1h-3zM411 595h2v1h-2zM413 594h2v1h-2zM415 593h2v1h-2zM417 592h2v1h-2zM419 591h1v1h-1zM420 590h2v1h-2zM422 589h1v1h-1zM423 588h2v1h-2zM425 587h1v1h-1zM426 586h1v1h-1zM427 585h1v1h-1zM428 584h2v1h-2zM430 583h1v1h-1zM431 582h1v1h-1zM432 581h1v1h-1zM433 580h1v1h-1zM434 579h1v1h-1zM435 578h1v1h-1zM436 577h1v1h-1zM437 576h2v1h-2zM439 575h1v1h-1zM440 574h1v1h-1zM441 573h2v1h-2zM443 572h1v1h-1zM444 571h2v1h-2zM446 570h2v1h-2zM448 569h1v1h-1zM449 568h2v1h-2zM451 567h2v1h-2zM453 566h1v1h-1zM454 565h2v1h-2zM456 564h2v1h-2zM458 563h2v1h-2zM460 562h2v1h-2zM462 561h2v1h-2zM464 560h1v1h-1zM465 559h2v1h-2zM467 558h2v1h-2zM469 557h2v1h-2zM471 556h3v1h-3zM474 555h2v1h-2zM476 554h4v1h-4zM480 553h5v1h-5zM485 552h6v1h-6zM491 551h5v1h-5zM496 550h3v1h-3zM499 549h2v1h-2zM501 548h3v1h-3zM504 547h3v1h-3zM507 546h4v1h-4zM511 545h4v1h-4zM515 544h4v1h-4zM519 543h6v1h-6zM525 542h3v1h-3zM528 541h4v1h-4zM532 540h20v1h-20zM552 541h5v1h-5zM557 542h7v1h-7zM564 543h6v1h-6zM570 544h4v1h-4zM574 545h3v1h-3zM577 546h3v1h-3zM580 547h3v1h-3zM583 548h3v1h-3zM586 549h4v1h-4zM590 550h2v1h-2zM592 551h2v1h-2zM594 552h2v1h-2zM596 553h2v1h-2zM598 554h3v1h-3zM601 555h2v1h-2zM603 556h2v1h-2zM605 557h3v1h-3zM608 558h2v1h-2zM610 559h2v1h-2zM612 560h2v1h-2zM614 561h1v1h-1zM615 562h2v1h-2zM617 563h1v1h-1zM618 564h2v1h-2zM620 565h1v1h-1zM621 566h1v1h-1zM622 567h1v1h-1zM623 568h2v1h-2zM625 569h1v1h-1zM626 570h1v1h-1zM627 571h1v1h-1zM628 572h1v1h-1zM629 573h1v1h-1zM630 574h1v1h-1zM631 575h1v1h-1zM632 576h1v1h-1zM633 577h1v1h-1zM634 578h1v1h-1zM635 579h1v1h-1zM636 580h1v1h-1zM637 581h1v1h-1zM638 582h1v1h-1zM639 583h1v1h-1zM640 584h1v1h-1zM641 585h1v1h-1zM642 586h1v1h-1zM643 587h1v1h-1zM644 588h1v1h-1zM645 589h2v1h-2zM647 590h1v1h-1zM648 591h1v1h-1zM649 592h2v1h-2zM651 593h2v1h-2zM653 594h2v1h-2zM655 595h1v1h-1zM656 596h2v1h-2zM658 597h2v1h-2zM660 598h2v1h-2zM662 599h4v1h-4zM666 600h12v1h-12zM678 599h4v1h-4zM682 598h4v1h-4zM686 597h3v1h-3zM689 596h3v1h-3zM692 595h4v1h-4zM696 594h11v1h-11zM707 593h6v1h-6zM713 592h6v1h-6zM719 591h5v1h-5zM724 590h19v1h-19zM743 589h6v1h-6zM749 588h7v1h-7zM756 587h17v1h-17zM773 586h5v1h-5zM778 585h3v1h-3zM781 584h2v1h-2zM783 583h2v1h-2zM785 582h1v1h-1zM786 581h2v1h-2zM788 580h1v1h-1zM789 579h1v1h-1zM790 578h1v1h-1zM791 577h1v1h-1zM792 576h1v1h-1zM793 575h1v1h-1zM794 574h1v1h-1zM795 573h1v1h-1zM796 572h1v1h-1zM797 571h1v1h-1zM798 570h1v1h-1zM799 569h1v1h-1zM800 568h1v1h-1zM801 566h1v2h-1zM802 565h1v1h-1zM803 564h1v1h-1zM804 563h1v1h-1zM805 562h1v1h-1zM806 561h1v1h-1zM807 559h1v2h-1zM808 558h1v1h-1zM809 557h1v1h-1zM810 556h1v1h-1zM811 554h1v2h-1zM812 553h1v1h-1zM813 552h1v1h-1zM814 551h1v1h-1zM815 550h1v1h-1zM816 549h1v1h-1zM817 548h1v1h-1zM818 547h1v1h-1zM819 546h1v1h-1zM820 545h1v1h-1zM821 544h1v1h-1zM822 543h1v1h-1zM823 541h1v2h-1zM824 540h1v1h-1zM825 539h1v1h-1zM826 538h1v1h-1zM827 537h1v1h-1zM828 536h1v1h-1zM829 535h1v1h-1zM830 534h1v1h-1zM831 533h1v1h-1zM832 532h1v1h-1zM833 531h1v1h-1zM834 530h1v1h-1zM835 529h1v1h-1zM836 528h1v1h-1zM837 527h2v1h-2zM839 526h1v1h-1zM840 525h2v1h-2zM842 524h1v1h-1zM843 522h1v2h-1zM844 521h1v1h-1zM845 520h1v1h-1zM846 518h1v2h-1zM847 517h1v1h-1zM848 516h1v1h-1zM849 514h1v2h-1zM850 513h1v1h-1zM851 512h1v1h-1zM852 511h1v1h-1zM853 509h1v2h-1zM854 508h1v1h-1zM855 507h2v1h-2zM857 506h1v1h-1zM858 505h2v1h-2zM860 504h1v1h-1zM861 503h2v1h-2zM863 502h2v1h-2zM865 501h2v1h-2z" fill="#f0e800" shape-rendering="crispEdges"/>
<line x1="71" y1="185.5" x2="987" y2="185.5" stroke="#f5a032" stroke-width="1" stroke-dasharray="3 3" shape-rendering="crispEdges"/>
<path d="M845.5 37.5 H928.5 Q931.5 37.5 931.5 40.5 V297.5 Q931.5 301.5 927.5 301.5 H846.5 Q843.5 301.5 843.5 298.5 V39.5 Q843.5 37.5 845.5 37.5 Z" fill="none" stroke="#3d9eff" stroke-width="3"/>
<path d="M846 59.5 h7 M848.5 57 v4" stroke="#f0f0f0" stroke-width="1" fill="none" shape-rendering="crispEdges"/>
<path d="M72 219.5 h7 M74.5 217 v4" stroke="#f0f0f0" stroke-width="1" fill="none" shape-rendering="crispEdges"/>
<path d="M540 252.5 h7 M542.5 250 v4" stroke="#f0f0f0" stroke-width="1" fill="none" shape-rendering="crispEdges"/>
<path d="M348 378.5 h7 M350.5 376 v4" stroke="#f0f0f0" stroke-width="1" fill="none" shape-rendering="crispEdges"/>
<rect x="989" y="130" width="67" height="16" fill="#000"/>
<rect x="988.5" y="185.5" width="68" height="17" fill="#000" stroke="#f09a30" stroke-width="1"/>
<rect x="1048" y="177" width="8" height="8" fill="#000"/><path d="M1049.5 180.8 L1052 177.6 L1054.5 180.8 Z M1048.3 185 L1052 181.2 L1055.7 185 Z" fill="#f09a30"/>
<rect x="259" y="624" width="163" height="16" fill="#000"/>
<g stroke="#f07000" stroke-width="1" fill="none"><circle cx="168.3" cy="5.3" r="4"/><path d="M164.3 5.3h8M168.3 1.3v8"/></g>
<rect x="925.5" y="-5.5" width="13" height="14" fill="#060606" stroke="#a6a6a6" stroke-width="1"/>
<rect x="941.5" y="-5.5" width="13" height="14" fill="#060606" stroke="#a6a6a6" stroke-width="1"/>
<rect x="957.5" y="-5.5" width="13" height="14" fill="#060606" stroke="#a6a6a6" stroke-width="1"/>
<rect x="973.5" y="-5.5" width="13" height="14" fill="#060606" stroke="#a6a6a6" stroke-width="1"/>
<g fill="#a8a8a8" shape-rendering="crispEdges">
<rect x="927" y="1" width="3" height="2"/><rect x="931" y="1" width="2" height="2"/><rect x="934" y="1" width="3" height="2"/><rect x="931" y="4" width="2" height="3"/>
<rect x="944" y="-3" width="1" height="9"/><rect x="943" y="5" width="10" height="1"/><rect x="944" y="4" width="1" height="3"/><rect x="951" y="4" width="1" height="3"/>
<rect x="947" y="-2" width="1" height="5"/><rect x="948" y="-1" width="1" height="2"/><rect x="949" y="0" width="1" height="2"/><rect x="950" y="-2" width="1" height="5"/>
<rect x="960" y="-3" width="1" height="9"/><rect x="959" y="5" width="10" height="1"/><rect x="960" y="4" width="1" height="3"/><rect x="967" y="4" width="1" height="3"/>
<rect x="975" y="-3" width="1" height="10"/><rect x="978" y="-3" width="1" height="10"/><rect x="975" y="6" width="4" height="1"/><rect x="979" y="1" width="3" height="1"/>
</g>
<path d="M963 -2 L968 1.5 L963 4.5 Z" fill="#a8a8a8"/><path d="M981 -1 L984 1.5 L981 4 Z" fill="#a8a8a8"/>
<g><circle cx="8.9" cy="455.8" r="3.3" fill="#fff"/><circle cx="8.9" cy="455.8" r="1.9" fill="#f01010"/><g stroke="#ff1414" stroke-width="1.2"><path d="M3.6 450.5l1.5 1.5M14.2 450.5l-1.5 1.5M3.6 461.1l1.5 -1.5M14.2 461.1l-1.5 -1.5M8.9 449.3v1.4M8.9 461v1.4M2.4 455.8h1.4M14 455.8h1.4"/></g></g>
<path d="M42 638 L46.3 630 L50.6 638 Z" fill="#f07000"/>
</svg>
<div class="t yl" style="top:8px">1.3314</div>
<div class="t yr" style="top:8px">1.3314</div>
<div class="t yl" style="top:62px">1.3308</div>
<div class="t yr" style="top:62px">1.3308</div>
<div class="t yl" style="top:116px">1.3301</div>
<div class="t yr" style="top:116px">1.3301</div>
<div class="t yl" style="top:170px">1.3295</div>
<div class="t yr" style="top:170px">1.3295</div>
<div class="t yl" style="top:224px">1.3288</div>
<div class="t yr" style="top:224px">1.3288</div>
<div class="t yl" style="top:278px">1.3282</div>
<div class="t yr" style="top:278px">1.3282</div>
<div class="t yl" style="top:332px">1.3276</div>
<div class="t yr" style="top:332px">1.3276</div>
<div class="t yl" style="top:386px">1.3269</div>
<div class="t yr" style="top:386px">1.3269</div>
<div class="t yl" style="top:463px">0.0005</div>
<div class="t yr" style="top:463px">0.0005</div>
<div class="t yl" style="top:488px">0.0004</div>
<div class="t yr" style="top:488px">0.0004</div>
<div class="t yl" style="top:514px">0.0003</div>
<div class="t yr" style="top:514px">0.0003</div>
<div class="t yl" style="top:539px">0.0001</div>
<div class="t yr" style="top:539px">0.0001</div>
<div class="t yl" style="top:565px">0.0000</div>
<div class="t yr" style="top:565px">0.0000</div>
<div class="t yl" style="top:590px">-0.0001</div>
<div class="t yr" style="top:590px">-0.0001</div>
<div class="t " style="left:72px;top:-3.4px;letter-spacing:0;">英镑美元 <span style="color:#f07000;margin-left:-3px;font-weight:bold">【1分】</span></div>
<div class="t b" style="left:79.3px;top:205px;color:#ee4a58">1.3290</div>
<div class="t b" style="left:547.3px;top:238px;color:#ee4a58">1.3286</div>
<div class="t b" style="left:355.3px;top:379px;color:#4fb98a">1.3271</div>
<div class="t b" style="left:853.6px;top:44.5px;color:#ee4a58">1.3309</div>
<div class="t " style="left:990.3px;top:130.5px;color:#ee9a38;letter-spacing:0">1.3301</div>
<div class="t " style="left:991px;top:186.5px;color:#ee9a38">1.3294</div>
<div class="t " style="left:72px;top:452.2px;letter-spacing:0.2px;word-spacing:0.6px;">MACD(26,12,9) <span style="letter-spacing:-0.3px">DIFF:</span>0.0004<span style="color:#dcdc14;margin-left:8.1px;letter-spacing:0.1px">DEA:0.0004</span><span style="color:#e61ee6;margin-left:7.6px;letter-spacing:0.2px">MACD:0.0002</span></div>
<div class="t b" style="left:17.5px;top:627px;color:#f07000;">1分</div>
<div class="t b" style="left:120px;top:625px;width:40px;text-align:center;color:#fff;letter-spacing:0.2px;">18:00</div>
<div class="t b" style="left:480px;top:625px;width:40px;text-align:center;color:#fff;letter-spacing:0.2px;">19:00</div>
<div class="t b" style="left:840px;top:625px;width:40px;text-align:center;color:#fff;letter-spacing:0.2px;">20:00</div>
<div class="t " style="left:261px;top:625px;color:#ee9a38;font-size:13px;letter-spacing:0;">2026/03/19 18:22<span style="display:inline-block;width:10px;margin-left:0.5px;text-indent:-1.5px;transform:scaleX(0.6)">～</span>18:23 四</div>
<div class="t " style="left:929px;top:588px;font-size:30px;line-height:36px;height:36px;letter-spacing:2.6px;color:#e4ebf7;">FX678</div>
</body></html>
